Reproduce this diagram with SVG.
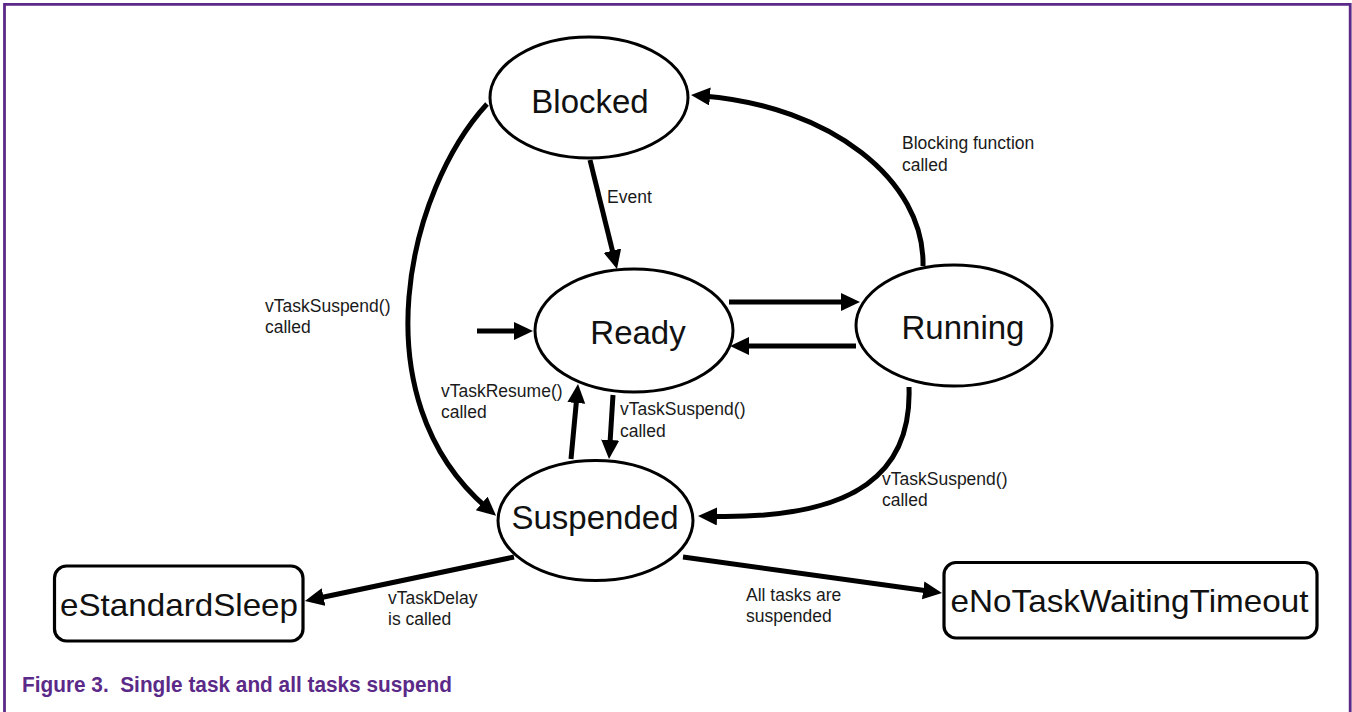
<svg xmlns="http://www.w3.org/2000/svg" width="1352" height="712" viewBox="0 0 1352 712">
  <style>
    .state { fill: #ffffff; stroke: #000000; stroke-width: 3; }
    .box { fill: #ffffff; stroke: #000000; stroke-width: 3.2; }
    .name { font-family: "Liberation Sans", Arial, sans-serif; font-size: 33px; fill: #111111; text-anchor: middle; }
    .boxname { font-family: "Liberation Sans", Arial, sans-serif; font-size: 32px; fill: #111111; text-anchor: middle; }
    .label { font-family: "Liberation Sans", Arial, sans-serif; font-size: 17.5px; fill: #1a1a1a; }
    .edge { fill: none; stroke: #000000; stroke-width: 5; marker-end: url(#head); }
    .frame { fill: none; stroke: #5b2a88; stroke-width: 2.8; }
    .caption { font-family: "Liberation Sans", Arial, sans-serif; font-size: 22px; font-weight: bold; fill: #5b2a88; white-space: pre; }
  </style>
  <defs>
    <marker id="head" markerUnits="userSpaceOnUse" markerWidth="22" markerHeight="20" refX="7" refY="9" orient="auto">
      <path d="M0,0 L19,9 L0,18 z" fill="#000000"/>
    </marker>
  </defs>

  <rect width="1352" height="712" fill="#ffffff"/>
  <!-- figure frame: open at the bottom -->
  <path class="frame" d="M4.5,712 L4.5,4.4 L1350.2,4.4 L1350.2,712"/>

  <!-- transitions -->
  <g id="connectors">
    <path class="edge" d="M590,160 L614.1,257.4"/>
    <path class="edge" d="M477,331 L521,331"/>
    <path class="edge" d="M729,302 L848,302"/>
    <path class="edge" d="M856,346 L742,346"/>
    <path class="edge" d="M613,395 L609.75,447"/>
    <path class="edge" d="M571,459 L576.9,396"/>
    <path class="edge" d="M487,104 C408,190 358,397 487,508"/>
    <path class="edge" d="M923,266 C925,180 830,106 703,96"/>
    <path class="edge" d="M909,387 C912,470 860,520 710,516.3"/>
    <path class="edge" d="M514,557 L316.7,598.5"/>
    <path class="edge" d="M683,557 L930.1,591.3"/>

    <text class="label" x="902" y="149">Blocking function</text>
    <text class="label" x="902" y="171">called</text>
    <text class="label" x="607" y="203">Event</text>
    <text class="label" x="265" y="312">vTaskSuspend()</text>
    <text class="label" x="265" y="333">called</text>
    <text class="label" x="441" y="397">vTaskResume()</text>
    <text class="label" x="441" y="418">called</text>
    <text class="label" x="620" y="415">vTaskSuspend()</text>
    <text class="label" x="620" y="437">called</text>
    <text class="label" x="882" y="485">vTaskSuspend()</text>
    <text class="label" x="882" y="506">called</text>
    <text class="label" x="388" y="604">vTaskDelay</text>
    <text class="label" x="388" y="625">is called</text>
    <text class="label" x="746" y="601">All tasks are</text>
    <text class="label" x="746" y="622">suspended</text>
  </g>

  <g id="blocked">
    <ellipse class="state" cx="589" cy="97.5" rx="99" ry="60.5"/>
    <text class="name" x="590" y="113">Blocked</text>
  </g>
  <g id="ready">
    <ellipse class="state" cx="634" cy="330.5" rx="99" ry="61.5"/>
    <text class="name" x="638" y="344">Ready</text>
  </g>
  <g id="running">
    <ellipse class="state" cx="954" cy="325.5" rx="98" ry="60.5"/>
    <text class="name" x="963" y="339">Running</text>
  </g>
  <g id="suspended">
    <ellipse class="state" cx="595.5" cy="520.5" rx="97.5" ry="60"/>
    <text class="name" x="595" y="529">Suspended</text>
  </g>
  <g id="eStandardSleep">
    <rect class="box" x="54.5" y="566" width="248.5" height="75" rx="12"/>
    <text class="boxname" x="179" y="616" textLength="238" lengthAdjust="spacingAndGlyphs">eStandardSleep</text>
  </g>
  <g id="eNoTaskWaitingTimeout">
    <rect class="box" x="944" y="562.5" width="373" height="75.5" rx="12"/>
    <text class="boxname" x="1129.5" y="612" textLength="358" lengthAdjust="spacingAndGlyphs">eNoTaskWaitingTimeout</text>
  </g>

  <text class="caption" x="22" y="692" xml:space="preserve" textLength="430" lengthAdjust="spacingAndGlyphs">Figure 3.  Single task and all tasks suspend</text>
</svg>
